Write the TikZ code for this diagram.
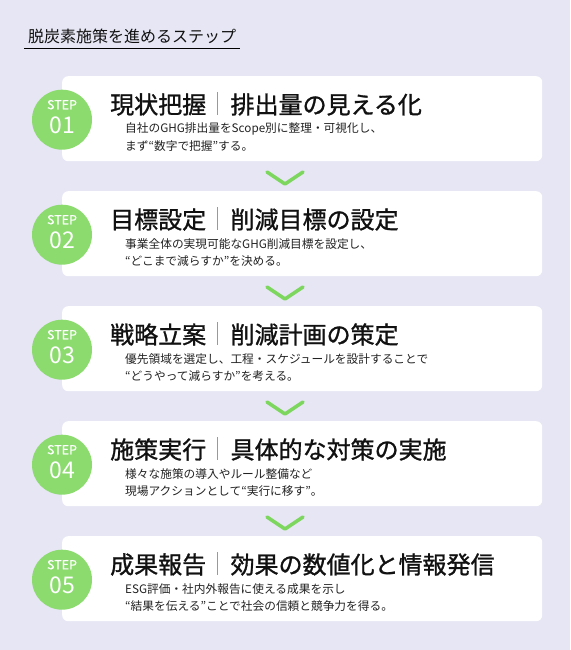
\documentclass[tikz,border=0pt]{standalone}
\usepackage{fontspec}
\setmainfont{Noto Sans CJK JP}
\newfontfamily\jpttl[FakeBold=1.1]{Noto Sans CJK JP}
\newfontfamily\jpstep[FakeBold=0.6]{Noto Sans CJK JP}
\definecolor{bgcol}{HTML}{E6E6F4}
\definecolor{stepgreen}{HTML}{8CDB6F}
\definecolor{chevgreen}{HTML}{7DD65E}
\definecolor{ttlcol}{HTML}{111111}
\definecolor{desccol}{HTML}{222222}
\definecolor{sepcol}{HTML}{999999}
\newcommand\mkstep[6]{%
  \pgfmathsetmacro\ty{76+115*(#1-1)}
  \node[card, anchor=north west] (card#1) at (62,\ty) {};
  \node[stepcirc] (circ#1) at ([yshift=-1pt]card#1.west) {};
  \node[steplbl] (stepl#1) at ([yshift=15pt]circ#1.center) {STEP};
  \node[stepnum] (stepn#1) at ([yshift=-6pt]circ#1.center) {#2};
  \node[ttltext, anchor=west] (ta#1) at (110,\ty+28.5) {#3};
  \coordinate (sept#1) at ([xshift=11pt]ta#1.east |- 0,\ty+16);
  \coordinate (sepb#1) at ([xshift=11pt]ta#1.east |- 0,\ty+39);
  \draw[sepline] (sept#1) -- (sepb#1);
  \node[ttltext, anchor=west] (tb#1) at ([xshift=13pt]sept#1 |- ta#1.west) {#4};
  \node[desctext, anchor=west] (da#1) at (125,\ty+53) {#5};
  \node[desctext, anchor=west] (db#1) at (125,\ty+70) {#6};
}
\newcommand\mkchev[1]{%
  \pgfmathsetmacro\cy{76+115*(#1-1)+96}
  \coordinate (chl#1) at (267,\cy);
  \coordinate (chm#1) at (285,\cy+12);
  \coordinate (chr#1) at (303,\cy);
  \draw[chev] (chl#1) -- (chm#1) -- (chr#1);
}
\begin{document}
\begin{tikzpicture}[x=1pt,y=-1pt,
  card/.style={fill=white, rounded corners=6pt, minimum width=480pt, minimum height=85pt, inner sep=0pt, draw=none},
  stepcirc/.style={circle, fill=stepgreen, minimum size=60pt, inner sep=0pt},
  steplbl/.style={inner sep=0pt, text=white, font=\jpstep\fontsize{12.5}{13}\selectfont},
  stepnum/.style={inner sep=0pt, text=white, font=\fontsize{23}{24}\selectfont},
  ttltext/.style={inner sep=0pt, text=ttlcol, font=\jpttl\fontsize{24}{25}\selectfont},
  desctext/.style={inner sep=0pt, text=desccol, font=\fontsize{11.7}{13}\selectfont},
  sepline/.style={draw=sepcol, line width=1pt},
  chev/.style={draw=chevgreen, line width=3.5pt, line cap=round, line join=round},
  headtext/.style={inner sep=0pt, text=ttlcol, font=\fontsize{16}{17}\selectfont}]
\fill[bgcol] (0,0) rectangle (570,650);
\useasboundingbox (0,0) rectangle (570,650);
\node[headtext, anchor=west] (head) at (28,36) {脱炭素施策を進めるステップ};
\coordinate (ulA) at (24,49);
\coordinate (ulB) at (240,49);
\draw[line width=1pt, black] (ulA) -- (ulB);
\mkstep{1}{01}{現状把握}{排出量の見える化}{自社のGHG排出量をScope別に整理・可視化し、}{まず“数字で把握”する。}
\mkstep{2}{02}{目標設定}{削減目標の設定}{事業全体の実現可能なGHG削減目標を設定し、}{“どこまで減らすか”を決める。}
\mkstep{3}{03}{戦略立案}{削減計画の策定}{優先領域を選定し、工程・スケジュールを設計することで}{“どうやって減らすか”を考える。}
\mkstep{4}{04}{施策実行}{具体的な対策の実施}{様々な施策の導入やルール整備など}{現場アクションとして“実行に移す”。}
\mkstep{5}{05}{成果報告}{効果の数値化と情報発信}{ESG評価・社内外報告に使える成果を示し}{“結果を伝える”ことで社会の信頼と競争力を得る。}
\mkchev{1}
\mkchev{2}
\mkchev{3}
\mkchev{4}
\end{tikzpicture}
\end{document}
